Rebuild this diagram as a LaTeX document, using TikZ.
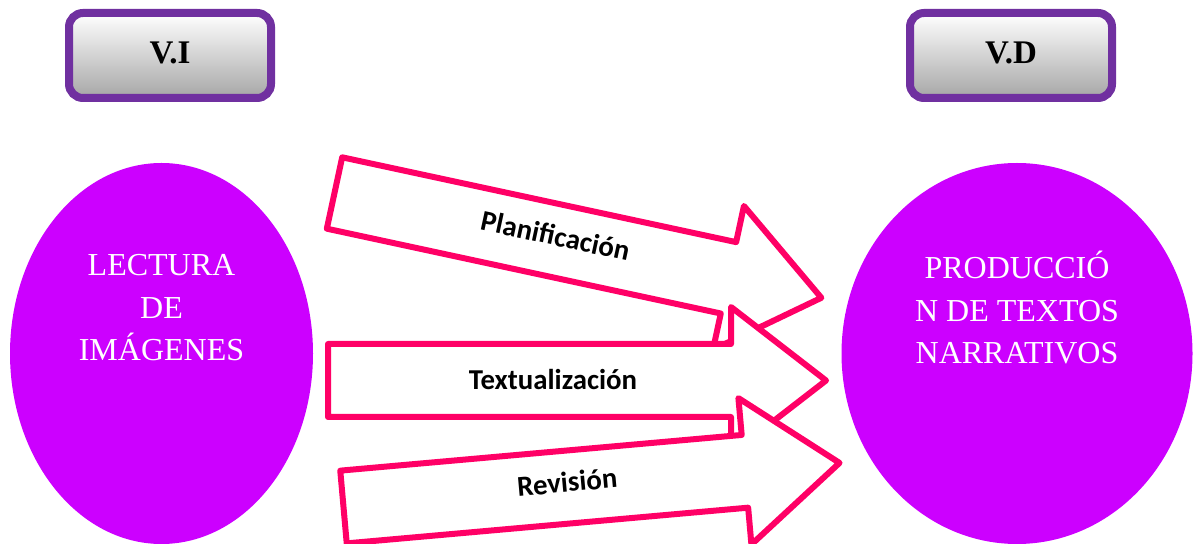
\documentclass[tikz,border=0pt]{standalone}
\usepackage{fontspec}
\setmainfont{Liberation Serif}
\newfontfamily\calib{Carlito}
\usetikzlibrary{shapes.geometric}
\definecolor{elfill}{HTML}{CC00FF}
\definecolor{arrowpink}{HTML}{FF0066}
\definecolor{boxborder}{HTML}{7030A0}
\definecolor{boxbottom}{HTML}{A6A6A6}
\newcommand\flecha[5]{%
  \begin{scope}[shift={#2}, rotate=#3]
    \draw[arrowline] (0,-36.5) -- (403,-36.5) -- (403,-73.5) -- (498,0) -- (403,73.5) -- (403,36.5) -- (0,36.5) -- cycle;
    \node[arrowtext, transform shape] (#1) at (225,#5) {#4};
  \end{scope}}
\tikzset{
  arrowline/.style={draw=arrowpink, line width=3pt, fill=white, line join=round},
  arrowtext/.style={font=\calib\bfseries\fontsize{14.4pt}{16pt}\selectfont, text=black, inner sep=0pt},
  varbox/.style={draw=boxborder, line width=4pt, rounded corners=7pt, top color=white, bottom color=boxbottom,
    minimum width=101pt, minimum height=42.5pt, inner sep=0pt,
    font=\bfseries\fontsize{16.5pt}{18pt}\selectfont},
  bigell/.style={ellipse, fill=elfill, draw=none, inner sep=0pt},
  elltext/.style={align=center, text=white, font=\fontsize{16pt}{21.25pt}\selectfont, inner sep=0pt}
}
\begin{document}
\begin{tikzpicture}[x=0.5pt,y=-0.5pt]
\useasboundingbox (0,0) rectangle (1193,544);
% top boxes
\node[varbox] (vi) at (170,55.5) {\raisebox{3pt}{V.I}};
\node[varbox] (vd) at (1011,55.5) {\raisebox{3pt}{V.D}};
% ellipses
\node[bigell, minimum width=151.5pt, minimum height=190.5pt] (lect) at (161.5,353.5) {};
\node[bigell, minimum width=175.5pt, minimum height=190.5pt] (prod) at (1017,353.5) {};
\node[elltext] (lecttext) at (161.5,308) {LECTURA\\DE\\IMÁGENES};
\node[elltext] (prodtext) at (1017,308) {PRODUCCIÓ\\N DE TEXTOS\\NARRATIVOS};
% arrows
\flecha{plan}{(334.5,193)}{-12.15}{Planificación}{-5}
\flecha{text}{(328,380.5)}{0}{Textualización}{-1}
\flecha{rev}{(343.5,507)}{5.08}{Revisión}{-5}
\end{tikzpicture}
\end{document}
